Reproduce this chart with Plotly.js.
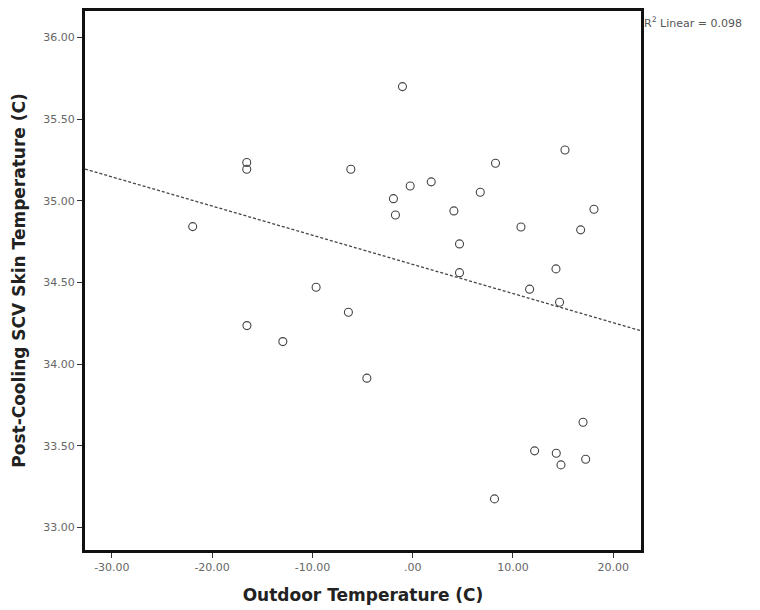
<!DOCTYPE html>
<html>
<head>
<meta charset="utf-8">
<script src="https://cdn.plot.ly/plotly-3.0.1.min.js"></script>
<style>html,body{margin:0;padding:0;background:#fff;}#chart{width:760px;height:610px;}</style>
</head>
<body>
<div id="chart"></div>
<script>
// Outdoor temperature (C)
const outdoorTemp = [-16.55, -16.55, -6.17, -21.94, -9.63, -1.02, 15.19, 8.26, -0.25, 1.85,
  -1.92, -1.72, 6.74, 4.11, 18.08, 10.80, 16.75, 4.67, 14.29, 4.67,
  11.66, 14.65, -16.53, -12.95, -6.41, -4.57, 16.99, 12.16, 14.32, 14.79,
  17.25, 8.16];
// Post-cooling SCV skin temperature (C)
const skinTemp = [35.235, 35.194, 35.194, 34.843, 34.472, 35.70, 35.312, 35.231, 35.092, 35.117,
  35.014, 34.914, 35.053, 34.939, 34.949, 34.841, 34.823, 34.737, 34.584, 34.561,
  34.460, 34.38, 34.237, 34.139, 34.319, 33.915, 33.645, 33.470, 33.455, 33.384,
  33.419, 33.176];
const xTickVals = [-30, -20, -10, 0, 10, 20];
const xTickText = ['-30.00', '-20.00', '-10.00', '.00', '10.00', '20.00'];
const yTickVals = [33, 33.5, 34, 34.5, 35, 35.5, 36];
const yTickText = ['33.00', '33.50', '34.00', '34.50', '35.00', '35.50', '36.00'];
const xRange = [-32.68, 22.77];
const yRange = [32.863, 36.163];
const r2Label = 'R<sup>2</sup> Linear = 0.098';

// least-squares fit line over the visible x range
const n = outdoorTemp.length;
const mx = outdoorTemp.reduce((a, b) => a + b, 0) / n;
const my = skinTemp.reduce((a, b) => a + b, 0) / n;
let sxy = 0, sxx = 0;
for (let i = 0; i < n; i++) { sxy += (outdoorTemp[i] - mx) * (skinTemp[i] - my); sxx += (outdoorTemp[i] - mx) ** 2; }
const slope = sxy / sxx, icpt = my - slope * mx;
const fitX = xRange.slice();
const fitY = fitX.map(v => icpt + slope * v);

const traces = [
  {x: fitX, y: fitY, mode: 'lines', type: 'scatter', line: {color: '#444', width: 1.3, dash: '3px,2px'}, hoverinfo: 'skip'},
  {x: outdoorTemp, y: skinTemp, mode: 'markers', type: 'scatter',
   marker: {symbol: 'circle-open', size: 8, color: '#444', line: {width: 1.1, color: '#444'}}}
];
const axisCommon = {showgrid: false, zeroline: false, showline: true, linecolor: '#111', linewidth: 3, mirror: true,
  ticks: 'outside', ticklen: 5, tickcolor: '#333', tickwidth: 1,
  tickfont: {family: 'DejaVu Sans', size: 11, color: '#666'}};
const titleFont = {family: 'DejaVu Sans', size: 17, color: '#222', weight: 'bold'};
const layout = {
  width: 760, height: 610, paper_bgcolor: '#fff', plot_bgcolor: '#fff', showlegend: false,
  margin: {l: 85, r: 119, t: 11, b: 60},
  xaxis: Object.assign({}, axisCommon, {range: xRange, tickvals: xTickVals, ticktext: xTickText,
    title: {text: 'Outdoor Temperature (C)', standoff: 16, font: titleFont}}),
  yaxis: Object.assign({}, axisCommon, {range: yRange, tickvals: yTickVals, ticktext: yTickText,
    title: {text: 'Post-Cooling SCV Skin Temperature (C)', standoff: 14, font: titleFont}}),
  annotations: [{xref: 'paper', yref: 'paper', x: 1, y: 1, xanchor: 'left', yanchor: 'top', xshift: 1, yshift: -2,
    showarrow: false, text: r2Label, font: {family: 'DejaVu Sans', size: 11, color: '#555'}}]
};
Plotly.newPlot('chart', traces, layout, {displayModeBar: false, staticPlot: true});
</script>
</body>
</html>
